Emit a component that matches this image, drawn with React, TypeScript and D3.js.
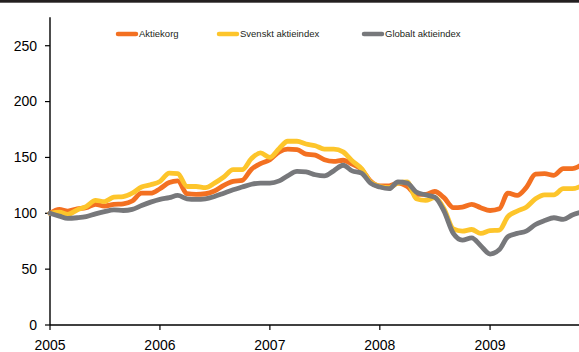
import React from "react";
import * as d3 from "d3";

const START = new Date(Date.UTC(2005, 0, 1));
const END = new Date(Date.UTC(2009, 11, 2));
const months: Date[] = d3.utcMonth.range(START, END);

const aktiekorg = [100, 103.5, 102, 104, 105, 108, 106.5, 108, 108.5, 111, 118, 118,
  122, 127.5, 129, 117.5, 117, 117.5, 120, 125, 128.5, 129.5, 139.5, 144.5,
  148, 155, 157.5, 157, 153, 152, 148, 146.5, 147.5, 144, 139.5, 129,
  124.5, 124.5, 127, 124, 117, 117, 119.5, 114, 105, 105.5, 108, 105,
  102.5, 104, 118, 116, 123, 135, 135.5, 134, 140, 140, 143.5];

const svensktIndex = [100, 101, 99, 103, 106, 111.5, 110.5, 114.5, 115, 118, 123.5, 125.5,
  128.5, 136, 135.5, 124, 124, 123, 127, 132.5, 139, 139, 149, 154,
  150, 158, 164.5, 164.5, 162, 160.5, 157.5, 157.5, 155, 147, 140, 128,
  124, 123, 127, 128, 113, 111.5, 114, 104, 86, 84, 85.5, 82,
  84.5, 85, 97, 102, 105.5, 113, 116.5, 116.5, 122, 122, 124.5];

const globaltIndex = [100, 97.5, 95.5, 96, 97, 99.5, 101.5, 103, 102.5, 103.5, 107, 110,
  112.5, 114, 116, 113, 112.5, 113, 115, 118, 121, 123.5, 126, 127,
  127, 129, 133.5, 137.5, 137, 134.5, 133.5, 138, 143, 138, 136, 127,
  123.5, 122, 128, 127, 119, 116.5, 114.5, 102, 82, 76, 78, 71,
  63.5, 67.5, 79, 82, 84, 90, 93.5, 96, 94.5, 98.5, 101];

const seriesNames = ["Aktiekorg", "Svenskt aktieindex", "Globalt aktieindex"];
const seriesColors = ["#f37021", "#fdc52b", "#77787b"];
const yTicks = [0, 50, 100, 150, 200, 250];
const yearTicks = [2005, 2006, 2007, 2008, 2009];

export default function App() {
  const W = 579, H = 352;
  const x = d3.scaleUtc()
    .domain([START, new Date(Date.UTC(2010, 0, 1))])
    .range([50, 600]);
  const y = d3.scaleLinear().domain([0, 275]).range([325, 17.8]);
  const line = d3.line<number>()
    .x((_, i) => x(months[i]))
    .y((d) => y(d))
    .curve(d3.curveMonotoneX);
  const all = [aktiekorg, svensktIndex, globaltIndex];
  const legendX = [116, 217, 362];
  const font = "'Liberation Sans', Arial, sans-serif";
  return (
    <svg width={W} height={H} style={{ position: "absolute", left: 0, top: 0, background: "#fff" }}>
      <rect x={0} y={0} width={W} height={2.7} fill="#231f20" />
      <line x1={50} x2={50} y1={17.3} y2={325} stroke="#000" strokeWidth={1.4} />
      <line x1={50} x2={W} y1={325} y2={325} stroke="#000" strokeWidth={1.4} />
      {yTicks.map((t) => (
        <g key={t}>
          <line x1={45} x2={50} y1={y(t)} y2={y(t)} stroke="#000" strokeWidth={1.2} />
          <text x={37} y={y(t)} dy="0.35em" textAnchor="end" fontFamily={font} fontSize={14} fill="#000">{t}</text>
        </g>
      ))}
      {yearTicks.map((yr) => {
        const xx = x(new Date(Date.UTC(yr, 0, 1)));
        return (
          <g key={yr}>
            <line x1={xx} x2={xx} y1={325} y2={330} stroke="#000" strokeWidth={1.2} />
            <text x={xx} y={350} textAnchor="middle" fontFamily={font} fontSize={14} fill="#000">{yr}</text>
          </g>
        );
      })}
      {all.map((s, i) => (
        <path key={i} d={line(s) || ""} fill="none" stroke={seriesColors[i]} strokeWidth={4.8}
          strokeLinejoin="round" strokeLinecap="round" />
      ))}
      {seriesNames.map((n, i) => (
        <g key={n}>
          <line x1={legendX[i] + 2} x2={legendX[i] + 20} y1={34} y2={34} stroke={seriesColors[i]} strokeWidth={4.5} strokeLinecap="round" />
          <text x={legendX[i] + 23} y={34} dy="0.35em" fontFamily={font} fontSize={9.5} fill="#231f20">{n}</text>
        </g>
      ))}
    </svg>
  );
}
